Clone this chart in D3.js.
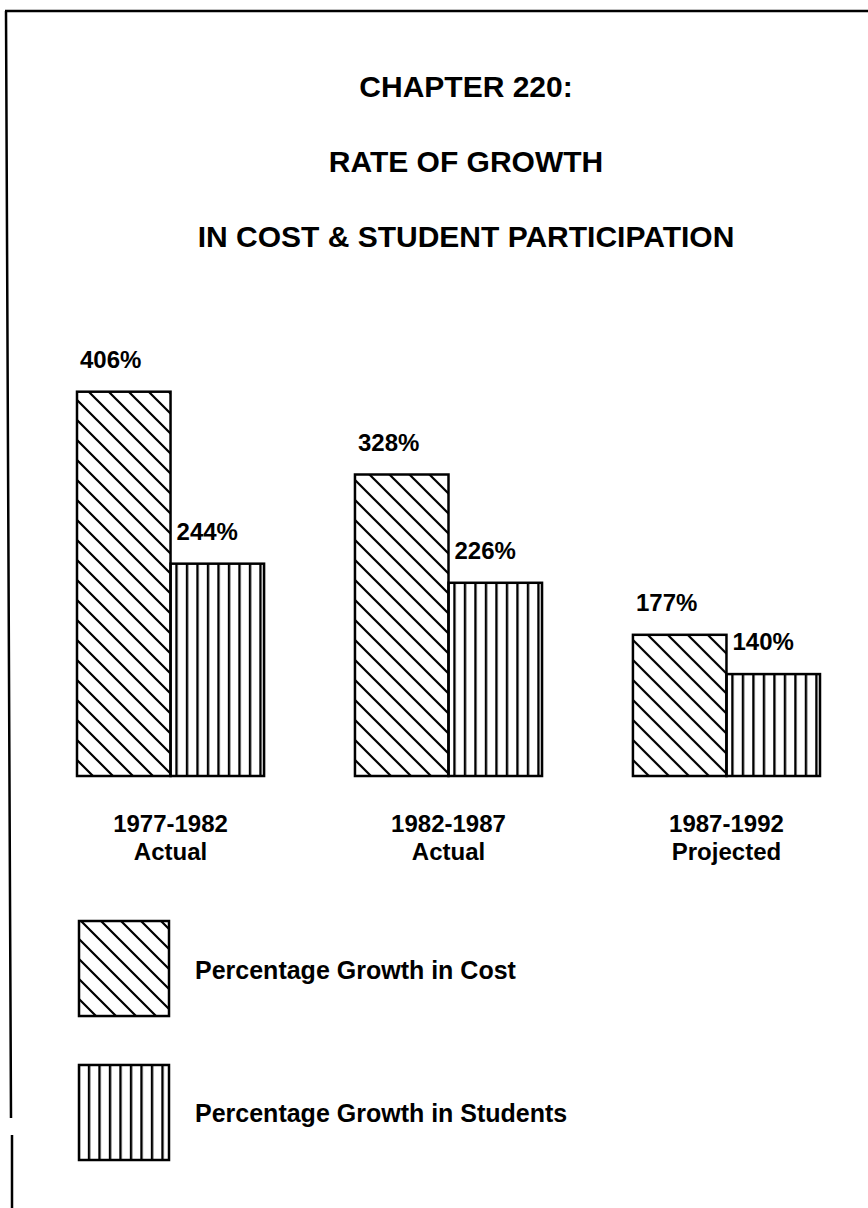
<!DOCTYPE html>
<html>
<head>
<meta charset="utf-8">
<script src="https://cdn.jsdelivr.net/npm/d3@7"></script>
<style>
  html, body { margin: 0; padding: 0; background: #fff; }
  svg { display: block; }
  text { font-family: "Liberation Sans", Arial, Helvetica, sans-serif; font-weight: bold; fill: #000; }
</style>
</head>
<body>
<svg id="chart" width="868" height="1208"></svg>
<script>
// ---- data ----
const titleLines = ["CHAPTER 220:", "RATE OF GROWTH", "IN COST & STUDENT PARTICIPATION"];
const periods = ["1977-1982", "1982-1987", "1987-1992"];
const periodNotes = ["Actual", "Actual", "Projected"];
const seriesNames = ["Percentage Growth in Cost", "Percentage Growth in Students"];
const costGrowth = [406, 328, 177];
const studentGrowth = [244, 226, 140];

const svg = d3.select("#chart");
const W = 868, H = 1208;

svg.append("rect").attr("width", W).attr("height", H).attr("fill", "#fff");

// patterns
const defs = svg.append("defs");
const diag = defs.append("pattern").attr("id", "diag")
  .attr("patternUnits", "userSpaceOnUse").attr("width", 20).attr("height", 20);
diag.append("path")
  .attr("d", "M0,0 L20,20 M-4,16 L4,24 M16,-4 L24,4")
  .attr("stroke", "#000").attr("stroke-width", 2.2).attr("fill", "none");
const vert = defs.append("pattern").attr("id", "vert")
  .attr("patternUnits", "userSpaceOnUse").attr("width", 10.5).attr("height", 10);
vert.append("line").attr("x1", 5).attr("x2", 5).attr("y1", -1).attr("y2", 11)
  .attr("stroke", "#000").attr("stroke-width", 2.4);
const fills = ["url(#diag)", "url(#vert)"];

// border (scanned page frame)
svg.append("path")
  .attr("d", "M5,11 L868,11 M6,11 L11,1118 M12,1135 L12,1208")
  .attr("stroke", "#000").attr("stroke-width", 2.5).attr("fill", "none");

// title
svg.append("g").selectAll("text").data(titleLines).join("text")
  .attr("x", 466)
  .attr("y", (d, i) => 97 + i * 75)
  .attr("text-anchor", "middle")
  .attr("font-size", 30)
  .text(d => d);

// scales
const x0 = d3.scaleBand().domain(periods).range([77, 820]).paddingInner(0.327).paddingOuter(0);
const x1 = d3.scaleBand().domain(seriesNames).range([0, x0.bandwidth()]).padding(0);
const y = d3.scaleLinear().domain([44, 406]).range([776, 391.7]);

const rows = periods.map((p, i) => ({ period: p, note: periodNotes[i], vals: [costGrowth[i], studentGrowth[i]] }));

const groups = svg.append("g").selectAll("g").data(rows).join("g")
  .attr("transform", d => `translate(${x0(d.period)},0)`);

groups.selectAll("rect").data(d => d.vals.map((v, j) => ({ v, s: seriesNames[j], j })))
  .join("rect")
  .attr("x", d => x1(d.s))
  .attr("y", d => y(d.v))
  .attr("width", x1.bandwidth())
  .attr("height", d => y.range()[0] - y(d.v))
  .attr("fill", d => fills[d.j])
  .attr("stroke", "#000").attr("stroke-width", 2.5);

groups.selectAll("text.val").data(d => d.vals.map((v, j) => ({ v, s: seriesNames[j], j })))
  .join("text").attr("class", "val")
  .attr("x", d => x1(d.s) + (d.j === 0 ? 3 : 6))
  .attr("y", d => y(d.v) - 24)
  .attr("font-size", 24)
  .text(d => d.v + "%");

// category labels
const cat = svg.append("g").selectAll("text").data(rows).join("text")
  .attr("text-anchor", "middle")
  .attr("font-size", 24)
  .attr("x", d => x0(d.period) + x0.bandwidth() / 2);
cat.append("tspan").attr("y", 832).text(d => d.period);
cat.append("tspan").attr("x", d => x0(d.period) + x0.bandwidth() / 2).attr("y", 860).text(d => d.note);

// legend
const legY = d3.scaleBand().domain(seriesNames).range([921, 1160]).paddingInner(0.34).paddingOuter(0);
const leg = svg.append("g").selectAll("g").data(seriesNames).join("g");
leg.append("rect")
  .attr("x", 79)
  .attr("y", d => legY(d))
  .attr("width", 90)
  .attr("height", legY.bandwidth())
  .attr("fill", (d, i) => fills[i])
  .attr("stroke", "#000").attr("stroke-width", 2.5);
leg.append("text")
  .attr("x", 195)
  .attr("y", d => legY(d) + legY.bandwidth() / 2 + 10)
  .attr("font-size", 25)
  .text(d => d);
</script>
</body>
</html>
